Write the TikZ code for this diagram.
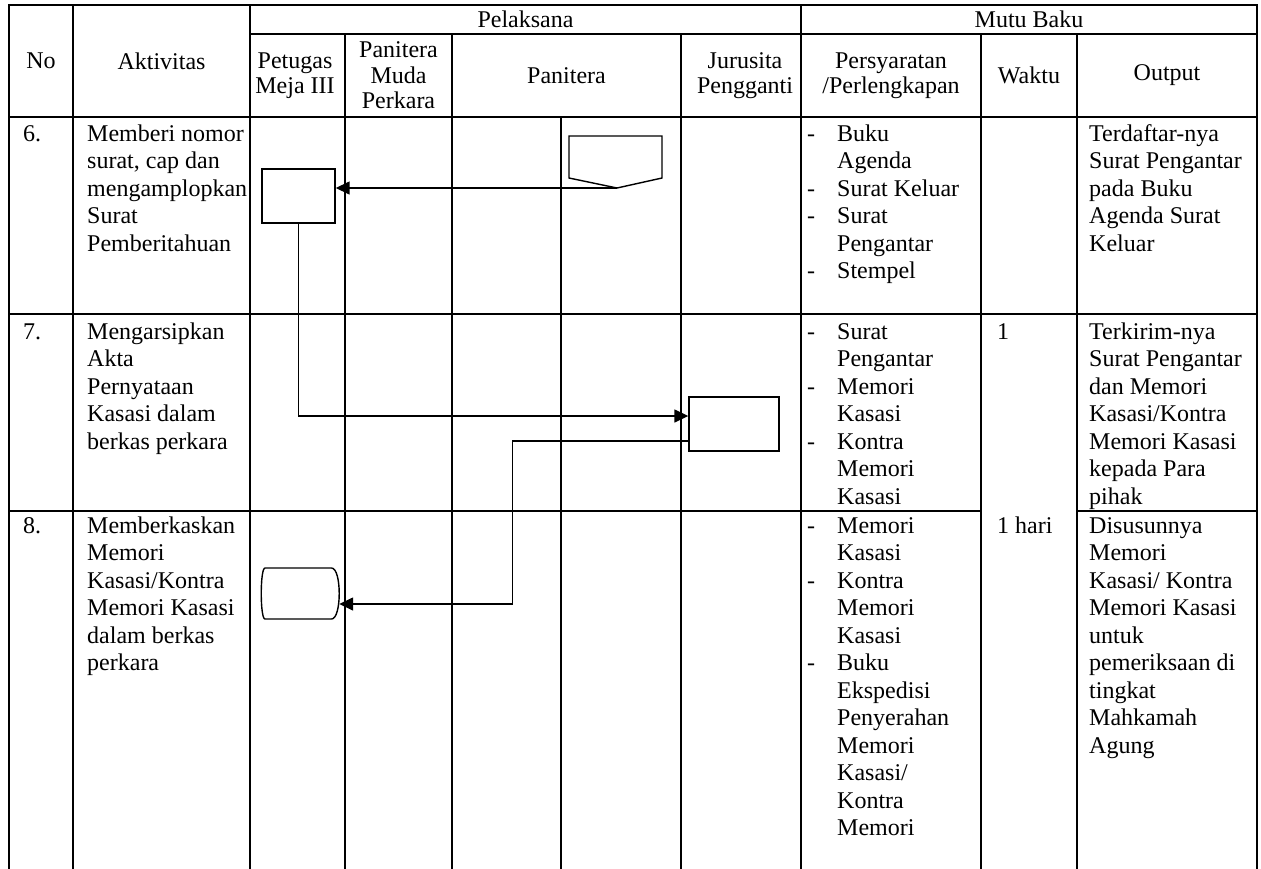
\documentclass[tikz,border=0pt]{standalone}
\usepackage{fontspec}
\setmainfont{Liberation Serif}
\usetikzlibrary{arrows.meta,calc}
\newcommand{\bodyfont}{\fontsize{24}{27.5}\selectfont}
\newcommand{\headfont}{\fontsize{24}{25.5}\selectfont}
\newcommand{\pdash}[1]{\makebox[30pt][l]{-}#1}
\newcommand{\pind}[1]{\hspace*{30pt}#1}
\begin{document}
\begin{tikzpicture}[x=1pt,y=-1pt,
  tline/.style={line width=2pt, line cap=rect},
  cell/.style={anchor=north west, inner sep=0pt, align=left, font=\bodyfont},
  head/.style={anchor=center, inner sep=0pt, align=center, font=\headfont},
  shp/.style={draw, line width=1.4pt, inner sep=0pt},
  conn/.style={line width=1.5pt, -{Triangle[length=14pt,width=13pt]}}]
\useasboundingbox (0,0) rectangle (1261,868);
% ---------- table grid ----------
\draw[tline] (9,5) -- (1257,5);
\draw[tline] (250,34) -- (1257,34);
\draw[tline] (9,117) -- (1257,117);
\draw[tline] (9,314) -- (1257,314);
\draw[tline] (9,511) -- (981,511);
\draw[tline] (1077,511) -- (1257,511);
\foreach \x in {9,73,250,801,1257} \draw[tline] (\x,5) -- (\x,868);
\foreach \x in {345,452,681,981,1077} \draw[tline] (\x,34) -- (\x,868);
\draw[tline] (561,117) -- (561,868);
% ---------- header ----------
\node[head] (hno) at (41,61) {No};
\node[head] (hakt) at (161.5,61) {Aktivitas};
\node[head] (hpel) at (525.5,19.5) {Pelaksana};
\node[head] (hmutu) at (1029,19.5) {Mutu Baku};
\node[head] (hpet) at (295,75.5) {Petugas\\Meja III};
\node[head] (hpmp) at (398.5,75.5) {Panitera\\Muda\\Perkara};
\node[head] (hpan) at (566.5,75.5) {Panitera};
\node[head] (hjur) at (745,75.5) {Jurusita\\Pengganti};
\node[head] (hper) at (891,75.5) {Persyaratan\\/Perlengkapan};
\node[head] (hwak) at (1029,75.5) {Waktu};
\node[head] (hout) at (1167,75.5) {Output};
% ---------- row 6 ----------
\node[cell] (n6) at (23,121.75) {\strut 6.};
\node[cell] (a6) at (87,121.75) {\strut Memberi nomor\\surat, cap dan\\mengamplopkan\\Surat\\Pemberitahuan};
\node[cell] (p6) at (807,121.75) {\strut\pdash{Buku}\\\pind{Agenda}\\\pdash{Surat Keluar}\\\pdash{Surat}\\\pind{Pengantar}\\\pdash{Stempel}};
\node[cell] (o6) at (1089,121.75) {\strut Terdaftar-nya\\Surat Pengantar\\pada Buku\\Agenda Surat\\Keluar};
% ---------- row 7 ----------
\node[cell] (n7) at (23,319.75) {\strut 7.};
\node[cell] (a7) at (87,319.75) {\strut Mengarsipkan\\Akta\\Pernyataan\\Kasasi dalam\\berkas perkara};
\node[cell] (p7) at (807,319.75) {\strut\pdash{Surat}\\\pind{Pengantar}\\\pdash{Memori}\\\pind{Kasasi}\\\pdash{Kontra}\\\pind{Memori}\\\pind{Kasasi}};
\node[cell] (w7) at (997,319.75) {\strut 1};
\node[cell] (o7) at (1089,319.75) {\strut Terkirim-nya\\Surat Pengantar\\dan Memori\\Kasasi/Kontra\\Memori Kasasi\\kepada Para\\pihak};
% ---------- row 8 ----------
\node[cell] (n8) at (23,513.75) {\strut 8.};
\node[cell] (a8) at (87,513.75) {\strut Memberkaskan\\Memori\\Kasasi/Kontra\\Memori Kasasi\\dalam berkas\\perkara};
\node[cell] (p8) at (807,513.75) {\strut\pdash{Memori}\\\pind{Kasasi}\\\pdash{Kontra}\\\pind{Memori}\\\pind{Kasasi}\\\pdash{Buku}\\\pind{Ekspedisi}\\\pind{Penyerahan}\\\pind{Memori}\\\pind{Kasasi/}\\\pind{Kontra}\\\pind{Memori}};
\node[cell] (w8) at (997,513.75) {\strut 1 hari};
\node[cell] (o8) at (1089,513.75) {\strut Disusunnya\\Memori\\Kasasi/ Kontra\\Memori Kasasi\\untuk\\pemeriksaan di\\tingkat\\Mahkamah\\Agung};
% ---------- flow shapes ----------
\draw[line width=1.4pt] (569,136) -- (662,136) -- (662,178) -- (617,188) -- (569,178) -- cycle;
\coordinate (offtip) at (617,188);
\node[shp, minimum width=73pt, minimum height=54pt] (proc1) at (298.5,196) {};
\node[shp, minimum width=90pt, minimum height=54pt] (proc2) at (734,424) {};
\node[inner sep=0pt, minimum width=77pt, minimum height=51.5pt] (term) at (300.5,593.5) {};
\draw[line width=1.4pt] (265,568) -- (331.5,568) .. controls (341.8,568) and (341.8,619) .. (331.5,619)
  -- (265,619) .. controls (260,619) and (260,568) .. (265,568) -- cycle;
% ---------- connectors ----------
\draw[conn] (offtip) -- (offtip -| proc1.east);
\draw[conn] (proc1.south) |- ([yshift=8pt]proc2.west);
\draw[conn] ([yshift=-17pt]proc2.west) -- ++(-176,0) |- ([yshift=-10.5pt]term.east);
\end{tikzpicture}
\end{document}
